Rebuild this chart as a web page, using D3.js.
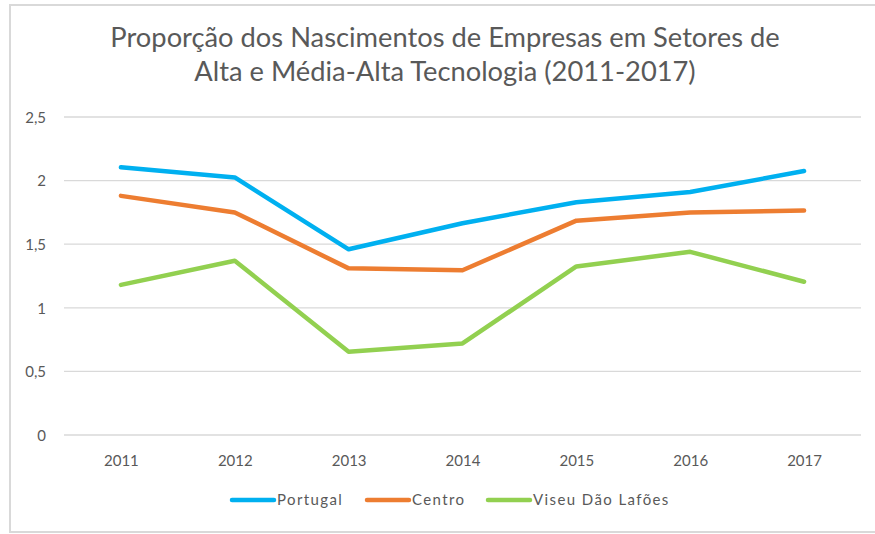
<!DOCTYPE html>
<html><head><meta charset="utf-8">
<script src="https://cdn.jsdelivr.net/npm/d3@7"></script>
<style>body{margin:0;background:#fff}svg{display:block}</style>
</head><body>
<svg id="c" width="875" height="534"></svg>
<script>
const years = ["2011","2012","2013","2014","2015","2016","2017"];
const portugal = [2.105, 2.025, 1.46, 1.665, 1.83, 1.91, 2.075];
const centro = [1.88, 1.75, 1.31, 1.295, 1.685, 1.75, 1.765];
const viseu = [1.18, 1.37, 0.655, 0.72, 1.325, 1.44, 1.205];
const yTicks = [0, 0.5, 1, 1.5, 2, 2.5];
const seriesNames = ["Portugal", "Centro", "Viseu Dão Lafões"];
const seriesColors = ["#00B0F0", "#ED7D31", "#92D050"];
const titleLines = ["Proporção dos Nascimentos de Empresas em Setores de", "Alta e Média-Alta Tecnologia (2011-2017)"];

const svg = d3.select("#c");
const font = "Lato, 'Open Sans', sans-serif";
const textColor = "#595959";

// frame
svg.append("path").attr("d","M10,533 L10,5 L880,5").attr("fill","none").attr("stroke","#d9d9d9").attr("stroke-width",2);
svg.append("line").attr("x1",10).attr("x2",880).attr("y1",532).attr("y2",532).attr("stroke","#d9d9d9").attr("stroke-width",2);

// title
svg.append("g").selectAll("text").data(titleLines).join("text")
  .attr("x",445).attr("y",(d,i)=>47+i*34).attr("text-anchor","middle")
  .attr("font-family",font).attr("font-size",27.3).attr("fill",textColor).text(d=>d);

const x = d3.scalePoint().domain(years).range([64,861]).padding(0.5);
const y = d3.scaleLinear().domain([0,2.5]).range([435,117]);

// gridlines
svg.append("g").selectAll("line").data(yTicks).join("line")
  .attr("x1",64).attr("x2",861).attr("y1",d=>y(d)).attr("y2",d=>y(d))
  .attr("stroke","#d9d9d9").attr("stroke-width",1.3);

// y labels
const yAxis = svg.append("g").attr("transform","translate(46,0)")
  .call(d3.axisLeft(y).tickValues(yTicks).tickSize(0).tickPadding(0).tickFormat(d=>String(d).replace(".",",")));
yAxis.select(".domain").remove();
yAxis.selectAll("text").attr("font-family",font).attr("font-size",15).attr("fill",textColor).attr("dy","0.35em");

// x labels
const xAxis = svg.append("g").attr("transform","translate(0,461)")
  .call(d3.axisBottom(x).tickSize(0).tickPadding(0));
xAxis.select(".domain").remove();
xAxis.selectAll("text").attr("font-family",font).attr("font-size",15).attr("fill",textColor).attr("dy","0.35em");

// lines
const allSeries = [portugal, centro, viseu];
const line = d3.line().x((d,i)=>x(years[i])).y(d=>y(d));
svg.append("g").selectAll("path").data(allSeries).join("path")
  .attr("d",d=>line(d)).attr("fill","none")
  .attr("stroke",(d,i)=>seriesColors[i]).attr("stroke-width",4.5)
  .attr("stroke-linecap","round").attr("stroke-linejoin","round");

// legend
const legX = [232, 367, 488];
const lg = svg.append("g").selectAll("g").data(seriesNames).join("g")
  .attr("transform",(d,i)=>`translate(${legX[i]},500)`);
lg.append("line").attr("x1",0).attr("x2",42).attr("y1",0).attr("y2",0)
  .attr("stroke",(d,i)=>seriesColors[i]).attr("stroke-width",4.5).attr("stroke-linecap","round");
lg.append("text").attr("x",45).attr("y",0).attr("dy","0.35em")
  .attr("font-family",font).attr("font-size",15).attr("letter-spacing",1.4).attr("fill",textColor).text(d=>d);
</script>
</body></html>
